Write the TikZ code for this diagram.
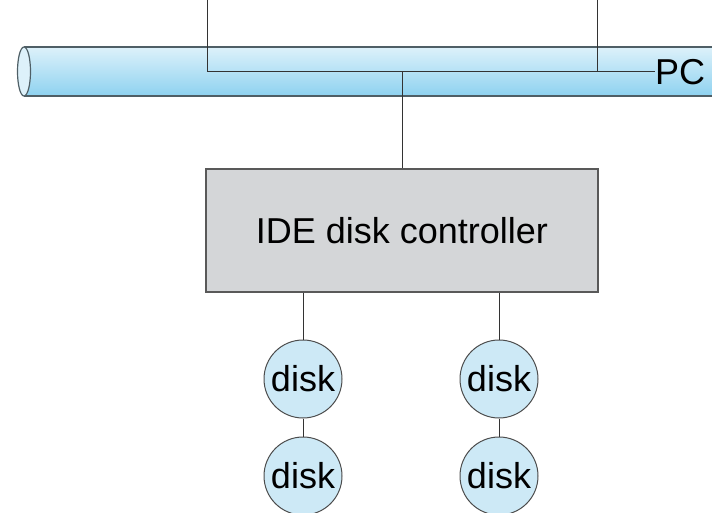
\documentclass[tikz,border=0pt]{standalone}
\usepackage{fontspec}
\setmainfont{Liberation Sans}
\begin{document}
\begin{tikzpicture}[x=1pt,y=-1pt,
  wire/.style={draw=black!80,line width=1pt},
  ctrl/.style={draw=black!65,line width=1.2pt,fill=ctrlgray,minimum width=392pt,minimum height=123pt,inner sep=0pt,font=\fontsize{36}{40}\selectfont},
  diskn/.style={circle,draw=black!70,line width=1pt,fill=diskblue,minimum size=78pt,inner sep=0pt,font=\fontsize{36}{40}\selectfont},
  lbl/.style={inner sep=0pt,anchor=west,font=\fontsize{36}{40}\selectfont}]
\definecolor{ctrlgray}{HTML}{D4D6D8}
\definecolor{diskblue}{HTML}{CDE9F6}
\definecolor{bustop}{HTML}{DDF1FA}
\definecolor{busbot}{HTML}{8ED2F0}
\definecolor{busline}{HTML}{4F5F66}
\useasboundingbox (0,0) rectangle (712,513);
% bus tube
\shade[top color=bustop,bottom color=busbot] (24,47) rectangle (712,96);
\draw[busline,line width=1.2pt] (24,47) -- (712,47);
\draw[busline,line width=1.2pt] (24,96) -- (712,96);
\draw[busline,line width=1.2pt,fill=bustop] (24,71.5) ellipse [x radius=6.5pt,y radius=24.5pt];
% junctions
\coordinate (t1) at (207,0);
\coordinate (j1) at (207,72);
\coordinate (t2) at (597,0);
\coordinate (j2) at (597,72);
\coordinate (jm) at (402,72);
\node[lbl] (pc) at (655,72) {PC};
\draw[wire] (t1) -- (j1) -- (pc.west);
\draw[wire] (t2) -- (j2);
% controller
\node[ctrl] (ctrl) at (402,230.5) {IDE disk controller};
\draw[wire] (jm) -- (ctrl.north);
% disks
\node[diskn] (d1) at (303,379) {disk};
\node[diskn] (d2) at (303,476) {disk};
\node[diskn] (d3) at (499,379) {disk};
\node[diskn] (d4) at (499,476) {disk};
\draw[wire] (d1.north |- ctrl.south) -- (d1.north);
\draw[wire] (d3.north |- ctrl.south) -- (d3.north);
\draw[wire] (d1) -- (d2);
\draw[wire] (d3) -- (d4);
\end{tikzpicture}
\end{document}
